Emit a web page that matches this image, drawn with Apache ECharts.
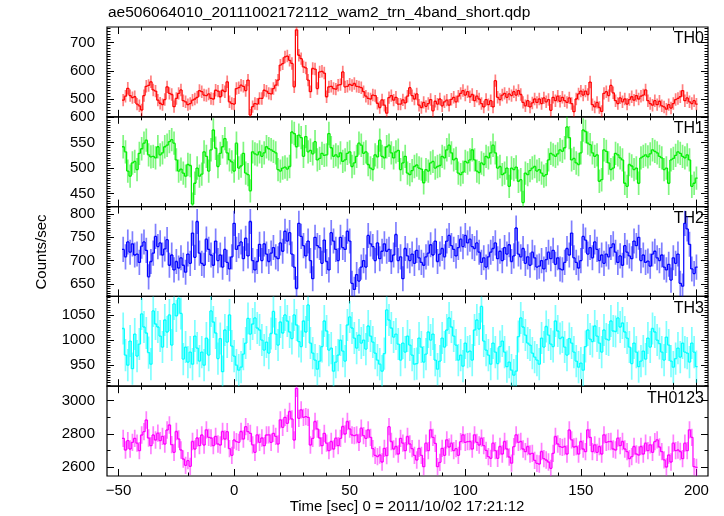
<!DOCTYPE html>
<html><head><meta charset="utf-8">
<script src="https://cdn.jsdelivr.net/npm/echarts@6/dist/echarts.min.js"></script>
<style>html,body{margin:0;padding:0;background:#fff}#c{width:724px;height:516px}</style>
</head><body><div id="c"></div>
<script>
const TITLE = 'ae506064010_20111002172112_wam2_trn_4band_short.qdp';
const X_TITLE = 'Time [sec] 0 = 2011/10/02 17:21:12';
const Y_TITLE = 'Counts/sec';
const T_START = -48;
const BIN = 1;

const TH0 = [
496,510,538,512,505,508,482,476,461,512,
545,548,561,532,528,496,485,480,498,543,
520,516,473,502,520,532,494,490,480,484,
496,500,506,530,526,514,512,518,502,500,
531,528,508,531,526,561,490,484,482,537,
540,549,545,530,567,443,473,484,482,502,
502,531,528,520,518,537,549,567,620,625,
649,652,637,626,543,745,655,643,614,610,
567,526,608,606,537,596,598,592,508,543,
545,537,535,549,551,596,543,545,552,548,
555,545,543,540,526,510,502,500,514,512,
485,470,497,478,450,505,512,496,506,482,
482,497,486,510,540,512,500,518,478,470,
488,474,484,498,458,492,482,500,476,490,
496,478,499,506,490,510,520,530,514,526,
508,516,494,510,500,484,472,498,480,494,
472,565,506,498,514,520,506,518,512,526,
514,530,516,488,476,494,472,486,500,488,
500,484,504,490,498,460,506,494,510,492,
506,494,488,504,484,455,500,518,528,514,
528,516,560,480,472,488,470,456,520,526,
512,548,522,494,484,504,490,500,482,498,
508,496,512,500,510,514,532,494,484,478,
494,480,492,476,472,464,480,468,484,498,
502,508,530,494,504,490,484,494,482];

const TH1 = [
542,532,494,484,510,513,497,529,538,549,
555,526,522,523,520,542,526,530,542,545,
552,556,549,516,494,498,490,484,507,505,
429,470,500,484,488,532,523,494,536,575,
539,503,529,542,558,530,516,512,494,549,
500,504,529,490,487,455,532,528,526,532,
523,530,542,538,536,533,530,497,494,500,
502,498,503,571,568,542,565,560,523,562,
532,535,528,552,516,519,529,525,526,568,
540,523,526,522,530,513,516,529,532,503,
510,523,549,545,529,532,507,500,497,526,
522,555,523,520,542,545,530,520,532,535,
497,510,523,490,487,495,503,506,500,498,
471,497,494,510,513,500,503,505,523,520,
536,545,530,516,519,490,487,492,513,510,
516,536,516,494,491,510,507,523,520,530,
545,530,500,503,487,490,500,464,500,497,
502,474,477,432,490,487,495,500,503,494,
497,490,484,487,516,529,526,523,528,536,
533,540,581,560,516,519,510,507,530,575,
572,549,546,530,523,526,474,477,536,533,
510,497,500,529,526,520,516,470,464,507,
504,497,500,470,520,523,526,522,528,536,
533,530,523,520,497,500,470,516,519,525,
532,529,523,520,526,516,464,470,480];

const TH2 = [
724,708,740,718,736,712,714,696,731,740,
722,665,698,716,752,730,738,712,725,745,
690,712,680,698,684,706,690,675,714,694,
759,707,784,716,694,690,746,724,712,690,
742,700,712,686,724,696,682,708,780,724,
732,740,704,748,710,784,700,680,698,735,
700,736,714,698,716,728,708,704,738,720,
763,742,760,714,686,640,780,752,732,710,
742,700,661,750,732,728,694,744,698,680,
760,742,724,700,750,728,724,763,742,651,
638,670,656,686,700,686,754,736,730,700,
738,704,720,736,720,724,698,712,756,700,
708,661,726,710,700,714,694,722,706,696,
690,708,716,734,712,742,698,714,726,708,
742,754,732,724,710,728,746,730,754,738,
746,730,726,738,718,696,706,686,708,718,
726,738,704,720,700,728,714,734,698,710,
770,714,708,726,694,708,690,718,706,686,
688,700,682,702,718,704,722,692,706,682,
680,696,726,712,759,706,696,684,700,752,
744,714,728,706,740,724,700,712,694,714,
708,728,736,718,696,710,690,732,718,710,
704,742,732,750,700,712,696,699,688,714,
720,706,700,712,686,680,692,658,706,694,
714,651,645,780,768,735,682,672,686];

const TH3 = [
1023,970,950,998,943,1012,968,992,1052,1026,
1014,975,952,1058,1032,1026,1008,986,1040,1016,
1050,990,1072,1048,1083,1053,962,986,956,976,
952,1008,984,958,976,950,1004,970,1058,1036,
1014,963,1003,937,1020,996,1050,988,968,950,
940,946,972,994,1043,1012,1032,1044,1024,1020,
1000,980,996,974,1013,1057,1012,990,1036,1014,
1050,1038,1016,1003,1050,1030,997,987,1038,1016,
1070,994,974,960,942,958,987,1038,1018,980,
984,938,956,970,1000,978,958,1030,1046,1024,
1004,984,1010,994,1000,982,1028,1008,996,974,
960,952,938,973,1060,1040,1024,1006,1012,992,
960,994,976,1008,990,970,952,953,1004,986,
956,972,1016,1000,1012,960,942,958,1004,986,
1020,1044,1026,1008,990,960,970,948,994,976,
978,960,1020,1040,1022,1067,998,980,970,952,
994,976,953,987,998,976,947,956,940,930,
938,1007,1044,1026,1010,994,990,974,966,960,
952,1004,986,1027,1010,992,987,1038,1018,1003,
1006,986,970,1003,994,976,958,946,954,940,
987,1020,1002,997,1028,1008,994,976,1020,1002,
1000,1038,1018,1017,1044,1026,1034,1016,1004,986,
953,994,976,947,958,978,962,1004,986,1023,
1016,1000,993,976,960,1006,990,958,946,963,
984,966,994,976,974,956,994,976,947];

const TH0123 = [
2774,2704,2760,2710,2750,2774,2745,2700,2794,2814,
2884,2776,2730,2794,2764,2805,2760,2786,2740,2824,
2854,2736,2690,2815,2770,2704,2650,2612,2640,2606,
2755,2710,2776,2730,2794,2734,2825,2780,2776,2730,
2786,2740,2734,2815,2770,2814,2712,2672,2764,2754,
2750,2815,2770,2844,2814,2804,2735,2690,2795,2750,
2776,2730,2794,2795,2750,2804,2786,2740,2885,2840,
2900,2864,2935,2890,2764,3074,2894,2945,2900,2904,
2900,2734,2774,2875,2830,2776,2730,2804,2745,2700,
2755,2710,2775,2730,2774,2845,2800,2875,2830,2794,
2790,2795,2750,2835,2790,2774,2825,2780,2712,2672,
2664,2674,2632,2714,2670,2844,2755,2710,2725,2680,
2774,2745,2700,2785,2740,2712,2672,2644,2714,2672,
2604,2745,2700,2825,2780,2744,2604,2630,2714,2672,
2765,2722,2745,2700,2712,2672,2754,2795,2750,2754,
2755,2710,2795,2750,2734,2775,2730,2702,2664,2654,
2745,2700,2654,2725,2680,2755,2710,2662,2625,2724,
2795,2750,2755,2710,2694,2725,2680,2684,2642,2624,
2620,2695,2652,2644,2632,2594,2684,2785,2740,2724,
2720,2725,2680,2824,2765,2722,2725,2680,2755,2710,
2694,2825,2780,2694,2735,2690,2725,2680,2795,2750,
2754,2755,2710,2704,2775,2730,2755,2710,2694,2652,
2664,2725,2680,2674,2725,2680,2745,2700,2735,2690,
2754,2765,2722,2694,2645,2602,2674,2632,2745,2700,
2704,2695,2652,2745,2700,2825,2780,2604,2600];

const SERIES = [TH0, TH1, TH2, TH3, TH0123];
const PANEL_NAMES = ['TH0', 'TH1', 'TH2', 'TH3', 'TH0123'];
const COLORS = ['#ff0000', '#00ee00', '#0000ff', '#00ffff', '#ff00ff'];
const ERRORS = [22, 23, 27, 32, 52];
const Y_MIN = [437, 424, 623, 908, 2548];
const Y_MAX = [755, 601, 816, 1087, 3087];
const Y_MAJOR = [[500, 600, 700], [450, 500, 550, 600], [650, 700, 750, 800], [950, 1000, 1050], [2600, 2800, 3000]];
const Y_MINOR_STEP = [10, 5, 5, 5, 100];
const X_MIN = -55, X_MAX = 205;
const X_MAJOR = [-50, 0, 50, 100, 150, 200];
const X_MINOR_STEP = 10;

const FONT = 'Liberation Sans, Arial, Helvetica, sans-serif';
const GRID_LEFT = 107, GRID_RIGHT = 16, GRID_TOP = 27, PANEL_H = 89.8;

function stepValues(lo, hi, step) {
  const out = [];
  const start = Math.ceil(lo / step) * step;
  for (let v = start; v <= hi + 1e-9; v += step) out.push(v);
  return out;
}
const fmt = v => (v < 0 ? '\u2212' + Math.abs(v) : String(v));
const plain = v => String(v);

const grids = [], xAxes = [], yAxes = [], series = [], graphics = [];
const X_MINOR = stepValues(X_MIN, X_MAX, X_MINOR_STEP);
const noLine = { show: false, onZero: false };

for (let k = 0; k < 5; k++) {
  const top = GRID_TOP + k * PANEL_H;
  grids.push({ left: GRID_LEFT, right: GRID_RIGHT, top: top, height: PANEL_H,
    show: true, borderColor: '#000', borderWidth: 1.2, backgroundColor: 'transparent' });
  const xBase = { type: 'value', gridIndex: k, min: X_MIN, max: X_MAX,
    axisLine: noLine, splitLine: { show: false } };
  const isBottom = k === 4;
  xAxes.push(Object.assign({}, xBase, { position: 'bottom',
    axisTick: { show: true, inside: true, length: 7, customValues: X_MAJOR, lineStyle: { color: '#000', width: 1 } },
    axisLabel: { show: isBottom, customValues: X_MAJOR, formatter: fmt, color: '#000', fontSize: 15, fontFamily: FONT, margin: 7 } }));
  xAxes.push(Object.assign({}, xBase, { position: 'top',
    axisTick: { show: true, inside: true, length: 7, customValues: X_MAJOR, lineStyle: { color: '#000', width: 1 } },
    axisLabel: { show: false } }));
  xAxes.push(Object.assign({}, xBase, { position: 'bottom',
    axisTick: { show: true, inside: true, length: 3.5, customValues: X_MINOR, lineStyle: { color: '#000', width: 1 } },
    axisLabel: { show: false } }));
  xAxes.push(Object.assign({}, xBase, { position: 'top',
    axisTick: { show: true, inside: true, length: 3.5, customValues: X_MINOR, lineStyle: { color: '#000', width: 1 } },
    axisLabel: { show: false } }));

  const yMinor = stepValues(Y_MIN[k], Y_MAX[k], Y_MINOR_STEP[k]);
  const yBase = { type: 'value', gridIndex: k, min: Y_MIN[k], max: Y_MAX[k],
    axisLine: noLine, splitLine: { show: false } };
  yAxes.push(Object.assign({}, yBase, { position: 'left',
    axisTick: { show: true, inside: true, length: 7, customValues: Y_MAJOR[k], lineStyle: { color: '#000', width: 1 } },
    axisLabel: { show: true, customValues: Y_MAJOR[k], formatter: plain, color: '#000', fontSize: 15, fontFamily: FONT, margin: 12 } }));
  yAxes.push(Object.assign({}, yBase, { position: 'right',
    axisTick: { show: true, inside: true, length: 7, customValues: Y_MAJOR[k], lineStyle: { color: '#000', width: 1 } },
    axisLabel: { show: false } }));
  yAxes.push(Object.assign({}, yBase, { position: 'left',
    axisTick: { show: true, inside: true, length: 3.5, customValues: yMinor, lineStyle: { color: '#000', width: 1 } },
    axisLabel: { show: false } }));
  yAxes.push(Object.assign({}, yBase, { position: 'right',
    axisTick: { show: true, inside: true, length: 3.5, customValues: yMinor, lineStyle: { color: '#000', width: 1 } },
    axisLabel: { show: false } }));

  const err = ERRORS[k], color = COLORS[k], vals = SERIES[k];
  const data = vals.map((v, i) => [T_START + i * BIN, v, i > 0 ? vals[i - 1] : v]);
  series.push({
    type: 'custom', xAxisIndex: 4 * k, yAxisIndex: 4 * k, clip: true, silent: true,
    data: data,
    renderItem: function (params, api) {
      const t = api.value(0), v = api.value(1), pv = api.value(2);
      const a = api.coord([t - BIN / 2, v]), b = api.coord([t + BIN / 2, v]);
      const p = api.coord([t - BIN / 2, pv]);
      const lo = api.coord([t, v - err]), hi = api.coord([t, v + err]);
      return { type: 'group', children: [
        { type: 'line', shape: { x1: lo[0], y1: lo[1], x2: hi[0], y2: hi[1] },
          style: { stroke: color, lineWidth: 1.7, opacity: 0.5 } },
        { type: 'line', shape: { x1: p[0], y1: p[1], x2: a[0], y2: a[1] },
          style: { stroke: color, lineWidth: 1.2 } },
        { type: 'line', shape: { x1: a[0], y1: a[1], x2: b[0], y2: b[1] },
          style: { stroke: color, lineWidth: 1.3 } }
      ] };
    }
  });

  graphics.push({ type: 'text', right: GRID_RIGHT + 4, top: top + 4,
    style: { text: PANEL_NAMES[k], fill: '#000', font: '16px ' + FONT } });
}

graphics.push({ type: 'text', left: 108, top: 5,
  style: { text: TITLE, fill: '#000', font: '15.5px ' + FONT } });
graphics.push({ type: 'text', x: 42, y: 252, rotation: Math.PI / 2,
  style: { text: Y_TITLE, fill: '#000', font: '15px ' + FONT, textAlign: 'center', textVerticalAlign: 'middle' } });
graphics.push({ type: 'text', x: 407, y: 507,
  style: { text: X_TITLE, fill: '#000', font: '15px ' + FONT, textAlign: 'center', textVerticalAlign: 'middle' } });

const chart = echarts.init(document.getElementById('c'), null, { renderer: 'canvas' });
chart.setOption({
  animation: false,
  backgroundColor: '#fff',
  grid: grids, xAxis: xAxes, yAxis: yAxes, series: series, graphic: graphics
});
</script></body></html>
